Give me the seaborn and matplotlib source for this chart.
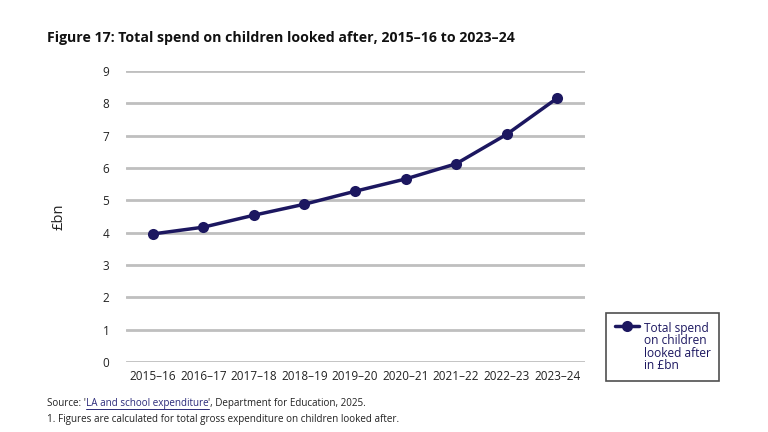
import pandas as pd
import seaborn as sns
import matplotlib.pyplot as plt

years = ['2015–16', '2016–17', '2017–18', '2018–19', '2019–20',
         '2020–21', '2021–22', '2022–23', '2023–24']
spend = [3.96, 4.17, 4.54, 4.88, 5.28, 5.66, 6.13, 7.04, 8.16]

df = pd.DataFrame({'Year': years, 'Spend': spend})

sns.set_theme(style='white')
plt.rcParams['font.family'] = ['Open Sans', 'DejaVu Sans']

navy = '#1c1760'
fig = plt.figure(figsize=(7.68, 4.32), dpi=100)
ax = fig.add_axes([126 / 768, 1 - 362 / 432, (585 - 126) / 768, (362 - 71) / 432])

sns.lineplot(data=df, x='Year', y='Spend', ax=ax, color=navy, linewidth=2.5,
             marker='o', markersize=8, markeredgewidth=0,
             label='Total spend\non children\nlooked after\nin £bn', sort=False)

ax.set_ylim(0, 9)
ax.set_xlim(-0.53, 8.55)
ax.set_yticks(range(10))
ax.grid(axis='y', color='#bfbfbf', linewidth=2)
ax.set_axisbelow(True)
for s in ax.spines.values():
    s.set_visible(False)
ax.tick_params(axis='both', length=0, labelsize=8.5, colors='#222222')
ax.tick_params(axis='y', pad=12)
ax.tick_params(axis='x', pad=6)
ax.set_xlabel('')
ax.set_ylabel('£bn', fontsize=10.5, color='#222222', labelpad=26)

leg = ax.legend(loc='lower left', bbox_to_anchor=(606 / 768, 1 - 381 / 432),
                bbox_transform=fig.transFigure, frameon=True, fancybox=False,
                fontsize=8.6, handlelength=2.0, handletextpad=0.4,
                borderpad=0.75, labelspacing=0.2, borderaxespad=0)
leg.get_frame().set_edgecolor('#222222')
leg.get_frame().set_linewidth(1.2)
for t in leg.get_texts():
    t.set_color(navy)
    t.set_linespacing(0.95)
    t.set_fontweight('medium')
# put the marker next to the first line of the label
for col in leg._legend_handle_box.get_children():
    for item in col.get_children():
        item.align = 'top'

fig.text(47 / 768, 1 - 38 / 432, 'Figure 17: Total spend on children looked after, 2015–16 to 2023–24',
         fontsize=10.2, fontweight='bold', va='center', ha='left', color='#111111')

# source line with a link-like piece
fig.canvas.draw()
r = fig.canvas.get_renderer()
x = 47 / 768
ys = 1 - 406 / 432
pieces = [("Source: '", '#222222', False), ('LA and school expenditure', '#2b2a7a', True),
          ("', Department for Education, 2025.", '#222222', False)]
for txt, col, und in pieces:
    t = fig.text(x, ys, txt, fontsize=7.1, color=col, va='baseline', ha='left')
    bb = t.get_window_extent(renderer=r).transformed(fig.transFigure.inverted())
    if und:
        fig.add_artist(plt.Line2D([bb.x0, bb.x1], [ys - 0.006, ys - 0.006],
                                  transform=fig.transFigure, color=col, linewidth=0.7))
    x = bb.x1
fig.text(47 / 768, 1 - 422 / 432, '1. Figures are calculated for total gross expenditure on children looked after.',
         fontsize=7.1, color='#222222', va='baseline', ha='left')

fig.savefig('out.png', dpi=100)
